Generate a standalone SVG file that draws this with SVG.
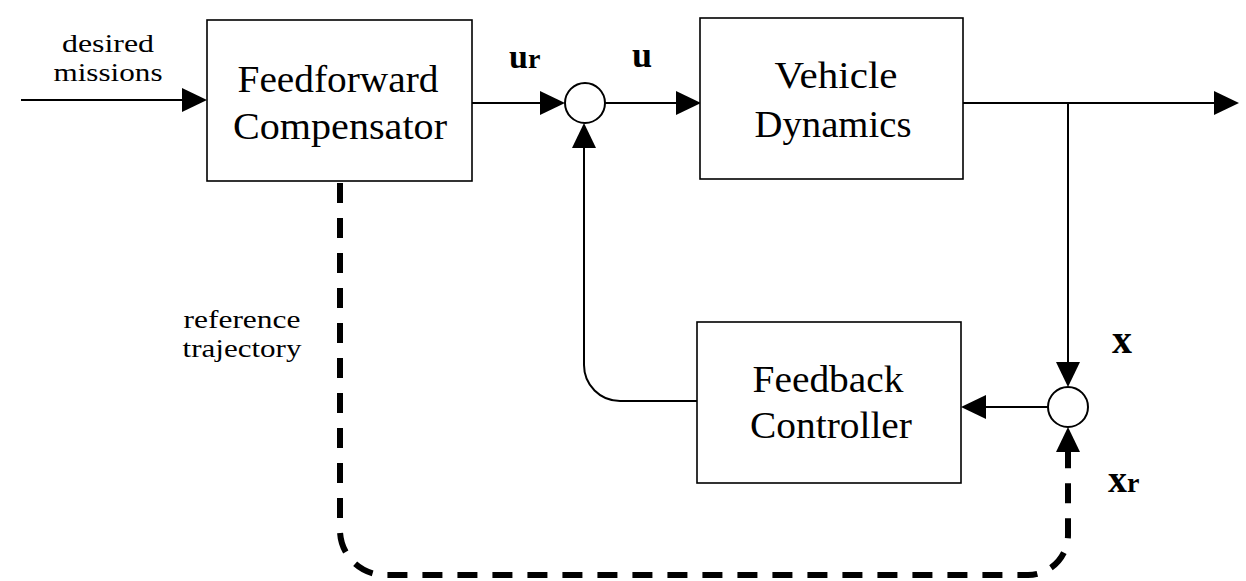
<svg xmlns="http://www.w3.org/2000/svg" width="1246" height="581" viewBox="0 0 1246 581">
<style>
.box{fill:#fff;stroke:#000;stroke-width:1.6}
.lbl{font-family:"Liberation Serif","Times New Roman",serif;font-size:38px;fill:#000;text-anchor:middle}
.sm{font-family:"Liberation Serif","Times New Roman",serif;font-size:26px;fill:#000;text-anchor:middle}
.sig{font-family:"Liberation Serif","Times New Roman",serif;font-weight:bold;fill:#000}
.wire{fill:none;stroke:#000;stroke-width:2}
.dash{fill:none;stroke:#000;stroke-width:6;stroke-dasharray:20 15}
.sum{fill:#fff;stroke:#000;stroke-width:2}
</style>
<defs>
<marker id="ah" markerUnits="userSpaceOnUse" markerWidth="26" markerHeight="24" refX="0" refY="12" orient="auto">
<path d="M0,0 L25,12 L0,24 z" fill="#000"/>
</marker>
</defs>
<rect width="1246" height="581" fill="#fff"/>
<g id="connectors">
<path class="wire" d="M21,100 L182,100" marker-end="url(#ah)"/>
<path class="wire" d="M472,103 L540,103" marker-end="url(#ah)"/>
<path class="wire" d="M605,103 L676,103" marker-end="url(#ah)"/>
<path class="wire" d="M963,103 L1214,103" marker-end="url(#ah)"/>
<path class="wire" d="M1068,103 L1068,362" marker-end="url(#ah)"/>
<path class="wire" d="M1048,407 L986,407" marker-end="url(#ah)"/>
<path class="wire" d="M697,401 L620,401 A36,36 0 0 1 584,365 L584,148" marker-end="url(#ah)"/>
<path class="dash" d="M340,183 L340,530 A45,45 0 0 0 385,575 L1028,575 A40,40 0 0 0 1068,535 L1068,452" marker-end="url(#ah)"/>
</g>
<g id="feedforward">
<rect class="box" x="207" y="20" width="265" height="161"/>
<text class="lbl" x="338" y="92" textLength="201" lengthAdjust="spacingAndGlyphs">Feedforward</text>
<text class="lbl" x="340" y="139" textLength="214" lengthAdjust="spacingAndGlyphs">Compensator</text>
</g>
<g id="vehicle">
<rect class="box" x="700" y="18" width="263" height="161"/>
<text class="lbl" x="836" y="88" textLength="123" lengthAdjust="spacingAndGlyphs">Vehicle</text>
<text class="lbl" x="833" y="137" textLength="157" lengthAdjust="spacingAndGlyphs">Dynamics</text>
</g>
<g id="feedback">
<rect class="box" x="697" y="322" width="264" height="161"/>
<text class="lbl" x="828" y="392" textLength="151" lengthAdjust="spacingAndGlyphs">Feedback</text>
<text class="lbl" x="831" y="438" textLength="162" lengthAdjust="spacingAndGlyphs">Controller</text>
</g>
<g id="sum1"><circle class="sum" cx="585" cy="103" r="20"/></g>
<g id="sum2"><circle class="sum" cx="1068" cy="407" r="20"/></g>
<g id="labels">
<text class="sm" x="108" y="52" textLength="92" lengthAdjust="spacingAndGlyphs">desired</text>
<text class="sm" x="108" y="81" textLength="109" lengthAdjust="spacingAndGlyphs">missions</text>
<text class="sm" x="242" y="328" textLength="117" lengthAdjust="spacingAndGlyphs">reference</text>
<text class="sm" x="242" y="357" textLength="119" lengthAdjust="spacingAndGlyphs">trajectory</text>
<text class="sig" x="509" y="68" font-size="34">u<tspan font-size="28">r</tspan></text>
<text class="sig" x="632" y="67" font-size="36">u</text>
<text class="sig" x="1112" y="353" font-size="40">x</text>
<text class="sig" x="1108" y="492" font-size="38">x<tspan font-size="28">r</tspan></text>
</g>
</svg>
